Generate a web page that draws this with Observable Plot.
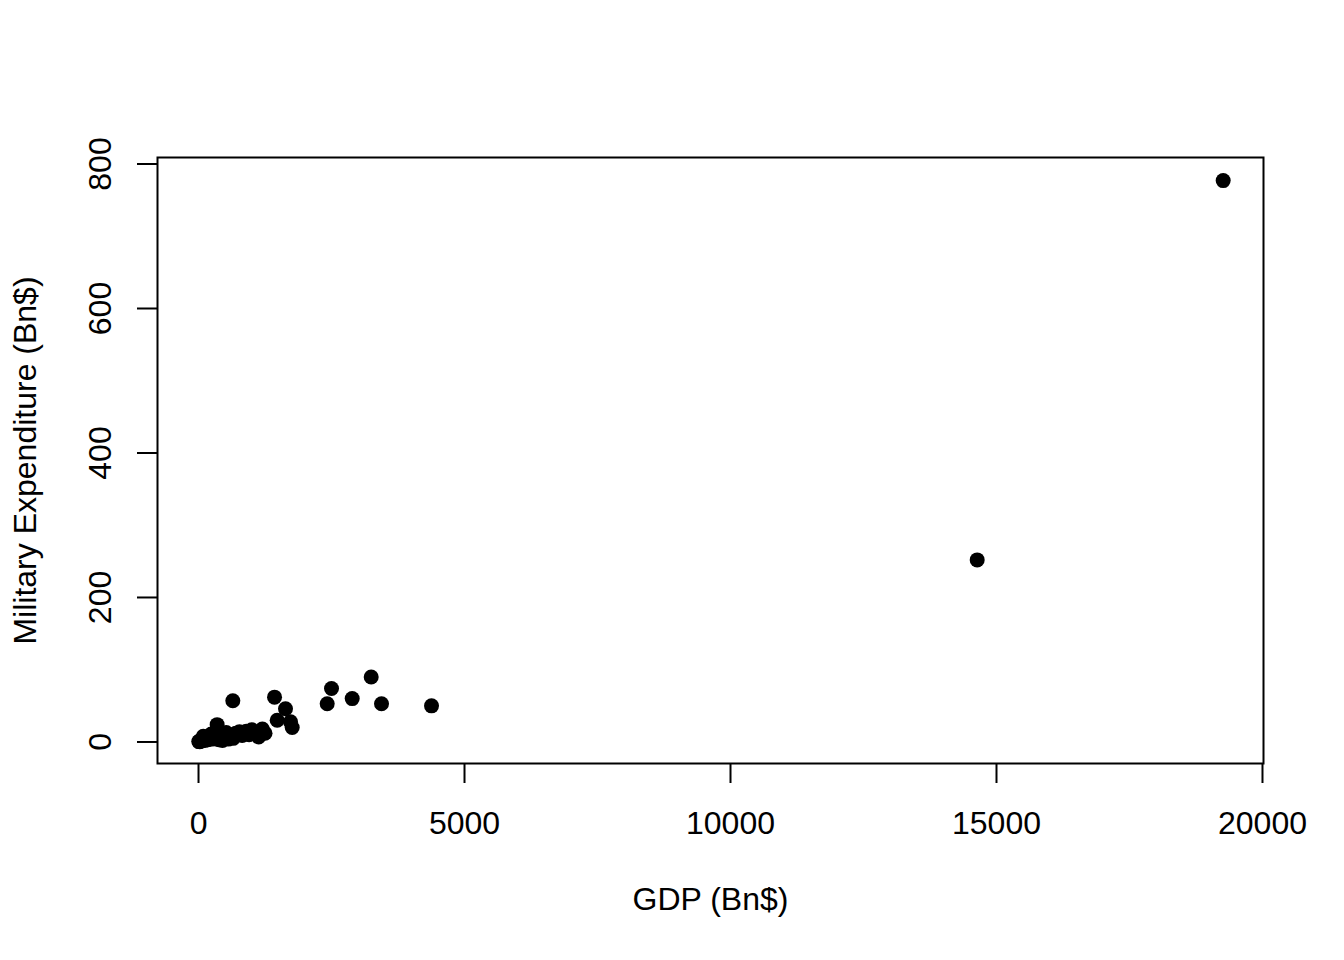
<!DOCTYPE html>
<html>
<head>
<meta charset="utf-8">
<script src="https://cdn.jsdelivr.net/npm/d3@7"></script>
<script src="https://cdn.jsdelivr.net/npm/@observablehq/plot@0.6"></script>
<style>
  html, body { margin: 0; padding: 0; background: #fff; }
  #chart svg { display: block; }
</style>
</head>
<body>
<div id="chart"></div>
<script>
// GDP (Bn$) per country
const gdp = [5, 15, 25, 40, 60, 80, 100, 120, 150, 180, 200, 230, 260, 300, 350, 330, 380, 420, 470, 520, 560, 600, 700, 770, 820, 900, 1000, 1100, 1130, 1200, 1250, 90, 240, 450, 650, 950,
  645, 1429, 1635, 1479, 1729, 1761, 2419, 2500, 2889, 3246, 3440, 4380, 14637, 19261];
// Military expenditure (Bn$) per country
const mil = [0.5, 1, 0.3, 2, 1.5, 3, 4, 2, 6, 3, 8, 5, 4, 9, 24, 12, 3, 6, 10, 13, 4, 8, 12, 14, 9, 15, 17, 13, 7, 18, 12, 8, 11, 2, 5, 10,
  57, 62, 46, 30, 28, 20, 53, 74, 60, 90, 53, 50, 252, 777];
const xTicks = [0, 5000, 10000, 15000, 20000];
const yTicks = [0, 200, 400, 600, 800];
const xTitle = "GDP (Bn$)";
const yTitle = "Military Expenditure (Bn$)";

const data = gdp.map((g, i) => ({gdp: g, mil: mil[i]}));

const chart = Plot.plot({
  width: 1344,
  height: 960,
  marginLeft: 157,
  marginRight: 81,
  marginTop: 157,
  marginBottom: 197,
  style: {fontFamily: "'Liberation Sans', Arial, Helvetica, sans-serif", fontSize: "32px", color: "black", background: "white"},
  x: {domain: [-771, 20019]},
  y: {domain: [-29.8, 809]},
  marks: [
    Plot.frame({stroke: "black", strokeWidth: 2}),
    Plot.axisX({ticks: xTicks, tickSize: 20, tickPadding: 28, tickFormat: d => String(d), label: null, strokeWidth: 2, fontSize: 32}),
    Plot.axisY({ticks: yTicks, tickSize: 20, tickFormat: () => "", label: null, strokeWidth: 2}),
    Plot.text(yTicks, {y: d => d, text: d => String(d), frameAnchor: "left", dx: -57, rotate: -90, textAnchor: "middle", fontSize: 32, fill: "black"}),
    Plot.text([xTitle], {text: d => d, frameAnchor: "bottom", dy: 146, textAnchor: "middle", fontSize: 32, fill: "black"}),
    Plot.text([yTitle], {text: d => d, frameAnchor: "left", dx: -132, rotate: -90, textAnchor: "middle", fontSize: 32, fill: "black"}),
    Plot.dot(data, {x: "gdp", y: "mil", r: 7.5, fill: "black", stroke: "none"})
  ]
});
document.getElementById("chart").appendChild(chart);
</script>
</body>
</html>
